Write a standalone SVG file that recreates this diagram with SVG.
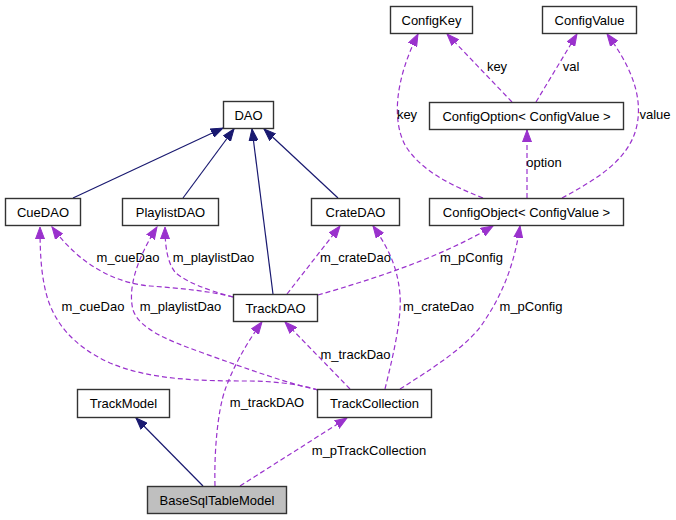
<svg xmlns="http://www.w3.org/2000/svg" width="676" height="520" viewBox="0 0 676 520">
<style>
.box{fill:#fff;stroke:#333;stroke-width:1.4}
.t{font-family:"Liberation Sans",Arial,Helvetica,sans-serif;font-size:13px;fill:#000;text-anchor:middle}
.inh{fill:none;stroke:#191970;stroke-width:1.2}
.use{fill:none;stroke:#9a32cd;stroke-width:1.2;stroke-dasharray:5,3}
</style>
<defs>
<marker id="an" markerWidth="13" markerHeight="10" refX="12" refY="5" orient="auto" markerUnits="userSpaceOnUse"><path d="M0,0.5 L12,5 L0,9.5 z" fill="#191970" stroke="#191970"/></marker>
<marker id="ap" markerWidth="13" markerHeight="10" refX="12" refY="5" orient="auto" markerUnits="userSpaceOnUse"><path d="M0,0.5 L12,5 L0,9.5 z" fill="#9a32cd" stroke="#9a32cd"/></marker>
</defs>
<rect width="676" height="520" fill="#fff"/>
<g id="connectors">
<path class="inh" marker-end="url(#an)" d="M73,198 L223,128"/>
<path class="inh" marker-end="url(#an)" d="M183,198 L234,129"/>
<path class="inh" marker-end="url(#an)" d="M273,294 L252,129"/>
<path class="inh" marker-end="url(#an)" d="M338,198 L264,129"/>
<path class="inh" marker-end="url(#an)" d="M203,486 L136,418"/>
<path class="use" marker-end="url(#ap)" d="M512,102 L447,34"/>
<path class="use" marker-end="url(#ap)" d="M536,102 L577,34"/>
<path class="use" marker-end="url(#ap)" d="M483,198 C450,185 420,170 405,145 C392,120 395,80 418,34"/>
<path class="use" marker-end="url(#ap)" d="M562,198 C595,180 630,160 637,125 C643,95 630,65 607,34"/>
<path class="use" marker-end="url(#ap)" d="M527,198 L527,130"/>
<path class="use" marker-end="url(#ap)" d="M233,297 C215,292 180,288 150,286 C115,283 80,265 52,227"/>
<path class="use" marker-end="url(#ap)" d="M233,297 C210,291 185,282 175,272 C167,262 165,245 165,227"/>
<path class="use" marker-end="url(#ap)" d="M287,294 L340,226"/>
<path class="use" marker-end="url(#ap)" d="M318,295 C370,280 440,258 493,226"/>
<path class="use" marker-end="url(#ap)" d="M318,390 C300,384 270,381 250,381 C200,381 150,380 110,363 C70,345 55,320 48,300 C42,280 40,260 40,227"/>
<path class="use" marker-end="url(#ap)" d="M318,390 C290,384 250,370 203,353 C170,341 140,330 133,310 C128,290 135,262 157,227"/>
<path class="use" marker-end="url(#ap)" d="M385,389 C392,360 402,320 400,295 C398,270 390,250 373,226"/>
<path class="use" marker-end="url(#ap)" d="M400,389 C430,370 470,345 485,320 C505,290 515,260 520,226"/>
<path class="use" marker-end="url(#ap)" d="M350,389 L285,322"/>
<path class="use" marker-end="url(#ap)" d="M215,486 C214,450 218,410 225,390 C232,370 245,345 262,322"/>
<path class="use" marker-end="url(#ap)" d="M240,486 L347,418"/>
<text class="t" x="497" y="71">key</text>
<text class="t" x="571" y="71">val</text>
<text class="t" x="407" y="119">key</text>
<text class="t" x="655" y="119">value</text>
<text class="t" x="544" y="167">option</text>
<text class="t" x="128" y="262">m_cueDao</text>
<text class="t" x="213.5" y="262">m_playlistDao</text>
<text class="t" x="355.5" y="262">m_crateDao</text>
<text class="t" x="471.5" y="262">m_pConfig</text>
<text class="t" x="93" y="311">m_cueDao</text>
<text class="t" x="180.5" y="311">m_playlistDao</text>
<text class="t" x="438.5" y="311">m_crateDao</text>
<text class="t" x="531" y="311">m_pConfig</text>
<text class="t" x="355.5" y="359">m_trackDao</text>
<text class="t" x="267" y="407">m_trackDAO</text>
<text class="t" x="369" y="455">m_pTrackCollection</text>
</g>
<g id="ConfigKey"><rect class="box" x="390.5" y="6.5" width="82" height="27"/><text class="t" x="431.5" y="24.5">ConfigKey</text></g>
<g id="ConfigValue"><rect class="box" x="542.5" y="6.5" width="94" height="27"/><text class="t" x="589.5" y="24.5">ConfigValue</text></g>
<g id="ConfigOption"><rect class="box" x="429.5" y="102.5" width="194" height="27"/><text class="t" x="526.5" y="120.5">ConfigOption&lt; ConfigValue &gt;</text></g>
<g id="ConfigObject"><rect class="box" x="429.5" y="198.5" width="194" height="27"/><text class="t" x="526.5" y="216.5">ConfigObject&lt; ConfigValue &gt;</text></g>
<g id="DAO"><rect class="box" x="223.5" y="101.5" width="50" height="27"/><text class="t" x="248.5" y="119.5">DAO</text></g>
<g id="CueDAO"><rect class="box" x="5.5" y="198.5" width="75" height="27"/><text class="t" x="43" y="216.5">CueDAO</text></g>
<g id="PlaylistDAO"><rect class="box" x="122.5" y="198.5" width="96" height="27"/><text class="t" x="170.5" y="216.5">PlaylistDAO</text></g>
<g id="CrateDAO"><rect class="box" x="311.5" y="198.5" width="88" height="27"/><text class="t" x="355.5" y="216.5">CrateDAO</text></g>
<g id="TrackDAO"><rect class="box" x="233.5" y="294.5" width="84" height="27"/><text class="t" x="275.5" y="312.5">TrackDAO</text></g>
<g id="TrackModel"><rect class="box" x="77.5" y="389.5" width="92" height="28"/><text class="t" x="123.5" y="408">TrackModel</text></g>
<g id="TrackCollection"><rect class="box" x="317.5" y="389.5" width="114" height="28"/><text class="t" x="374.5" y="408">TrackCollection</text></g>
<g id="BaseSqlTableModel"><rect class="box" x="147.5" y="486.5" width="139" height="27" style="fill:#bfbfbf"/><text class="t" x="217" y="504.5">BaseSqlTableModel</text></g>
</svg>
